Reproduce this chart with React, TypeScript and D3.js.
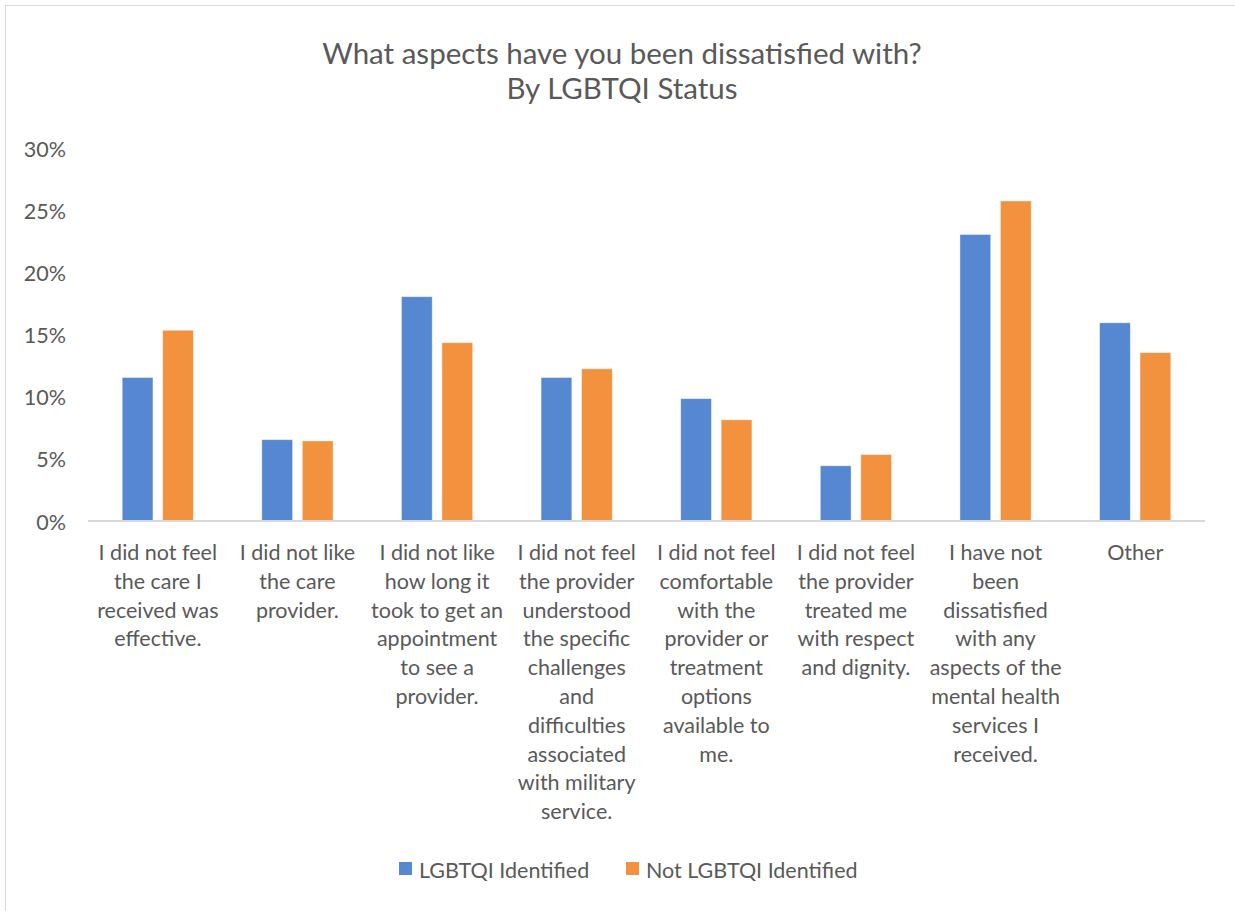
import React from "react";
import * as d3 from "d3";

const categories: string[][] = [
  ["I did not feel", "the care I", "received was", "effective."],
  ["I did not like", "the care", "provider."],
  ["I did not like", "how long it", "took to get an", "appointment", "to see a", "provider."],
  ["I did not feel", "the provider", "understood", "the specific", "challenges", "and", "difficulties", "associated", "with military", "service."],
  ["I did not feel", "comfortable", "with the", "provider or", "treatment", "options", "available to", "me."],
  ["I did not feel", "the provider", "treated me", "with respect", "and dignity."],
  ["I have not", "been", "dissatisfied", "with any", "aspects of the", "mental health", "services I", "received."],
  ["Other"],
];
const lgbtqi: number[] = [11.5, 6.5, 18.0, 11.5, 9.8, 4.4, 23.0, 15.9];
const notLgbtqi: number[] = [15.3, 6.4, 14.3, 12.2, 8.1, 5.3, 25.7, 13.5];
const seriesNames = ["LGBTQI Identified", "Not LGBTQI Identified"];
const yTicks = [0, 5, 10, 15, 20, 25, 30];

const colors = ["#5588d0", "#f2913e"];
const FONT = "Lato, 'Open Sans', sans-serif";
const TEXT = "#595959";

export default function App() {
  const W = 1235, H = 911;
  const left = 88, right = 1205, top = 147.5, bottom = 520.5;
  const x0 = d3.scaleBand<number>().domain(d3.range(categories.length)).range([left, right]).paddingInner(0.49).paddingOuter(0.245);
  const x1 = d3.scaleBand<number>().domain([0, 1]).range([0, x0.bandwidth()]).paddingInner(0.24);
  const y = d3.scaleLinear().domain([0, 30]).range([bottom, top]);
  const data = [lgbtqi, notLgbtqi];
  const catStep = (right - left) / categories.length;

  return (
    <svg width={W} height={H} style={{ display: "block", position: "absolute", left: 0, top: 0 }} fontFamily={FONT}>
      <rect x={0} y={0} width={W} height={H} fill="#fff" />
      <rect x={5.5} y={5.5} width={W + 10} height={H + 10} fill="none" stroke="#d9d9d9" strokeWidth={1} />
      <text x={622} y={63.5} textAnchor="middle" fontSize={29.5} fill={TEXT}>
        What aspects have you been dissatisfied with?
      </text>
      <text x={622} y={98.5} textAnchor="middle" fontSize={29.5} fill={TEXT}>
        By LGBTQI Status
      </text>
      {yTicks.map((t) => (
        <text key={t} x={66} y={y(t) + 9} textAnchor="end" fontSize={21.5} fill={TEXT}>
          {t}%
        </text>
      ))}
      {data.map((vals, si) =>
        vals.map((v, ci) => (
          <rect
            key={`${si}-${ci}`}
            x={(x0(ci) as number) + (x1(si) as number)}
            y={y(v)}
            width={x1.bandwidth()}
            height={bottom - y(v)}
            fill={colors[si]}
            stroke="#ffffff"
            strokeOpacity={0.5}
            strokeWidth={0.8}
          />
        ))
      )}
      <line x1={left} x2={right} y1={bottom + 0.5} y2={bottom + 0.5} stroke="#d9d9d9" strokeWidth={2} />
      {categories.map((lines, ci) => (
        <text key={ci} textAnchor="middle" fontSize={21.5} fill={TEXT}>
          {lines.map((ln, li) => (
            <tspan key={li} x={left + catStep * (ci + 0.5)} y={560 + li * 28.8}>
              {ln}
            </tspan>
          ))}
        </text>
      ))}
      {seriesNames.map((name, i) => {
        const lx = [399, 626][i];
        return (
          <g key={name}>
            <rect x={lx} y={862} width={13} height={13} fill={colors[i]} />
            <text x={lx + 20} y={877.5} fontSize={21.5} fill={TEXT}>
              {name}
            </text>
          </g>
        );
      })}
    </svg>
  );
}
